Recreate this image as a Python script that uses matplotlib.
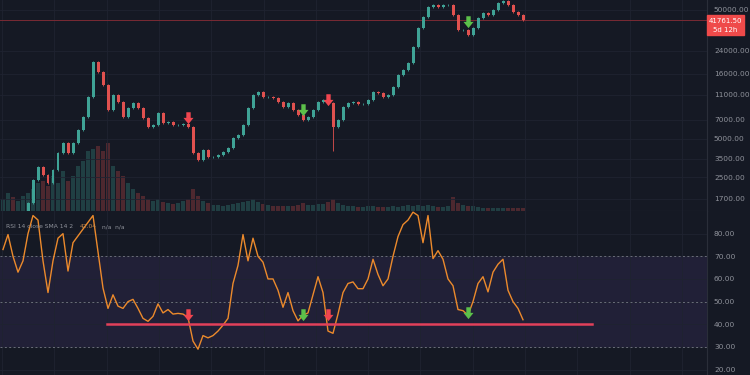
import numpy as np
import matplotlib
matplotlib.use('Agg')
import matplotlib.pyplot as plt
from matplotlib.path import Path
from matplotlib.patches import Rectangle
from matplotlib.ticker import NullLocator

# weekly closes (first five sit below the visible range)
closes = [1050, 1150, 1000, 1200, 1350,
          1578, 2383, 3006, 2606, 2259, 2851, 3864, 4624, 3864, 4624,
          5834, 7362, 10520, 19720, 16480, 13060, 8340, 10910, 9630, 7362,
          8650, 9460, 8650, 7230, 6150, 6380, 7910, 6610, 6730, 6380,
          6380, 6500, 6150, 3864, 3410, 4074, 3597, 3597, 3724, 3936,
          4227, 5058, 5333, 6380, 8650, 10910, 11510, 10520, 10520, 10350,
          9630, 8810, 9460, 8340, 7640, 6980, 7362, 8340, 9630, 9980,
          9460, 6150, 6980, 8810, 9460, 9630, 9290, 9290, 9980, 11510,
          11320, 10520, 10910, 12590, 15630, 17070, 19360, 25760, 36220, 44150,
          52720, 54700, 52720, 54700, 54700, 45710, 34910, 34910, 31990, 36220,
          43350, 47420, 45710, 50000, 56620, 58750, 54700, 48190, 45710, 41761.5]

volumes = [12, 18, 14, 10, 15, 18, 22, 28, 30, 25, 35, 28, 40, 30, 35,
           45, 50, 60, 62, 65, 60, 68, 45, 40, 35, 28, 22, 18, 15, 12,
           10, 12, 9, 8, 7, 8, 10, 12, 22, 15, 10, 8, 6, 6, 5,
           6, 7, 8, 9, 10, 12, 9, 7, 6, 5, 5, 5, 5, 5, 6,
           8, 6, 6, 7, 7, 9, 12, 8, 6, 5, 5, 4, 4, 5, 5,
           4, 4, 4, 5, 4, 5, 6, 5, 6, 5, 6, 5, 4, 4, 5,
           14, 8, 6, 5, 5, 4, 3, 3, 3, 3, 3, 3, 3, 3, 3]

rsi = [73, 79.6, 70, 63, 68, 80, 88, 86, 68, 54, 68, 78, 80, 63.5, 76,
       79, 82, 85, 88, 72, 56, 47, 53, 48, 47, 50, 51, 47, 42.6, 41.3,
       43.5, 49, 45, 46.5, 44.5, 44.8, 44.5, 43, 32.6, 29, 35, 34, 35, 37, 39.6,
       42.6, 58, 66, 79.6, 68, 78, 70, 67.4, 60, 60, 55, 47.5, 54, 46, 41.5,
       44, 45, 53, 61, 54, 37, 36, 44.5, 54, 58, 58.7, 55.7, 55.7, 60, 68.7,
       62, 57, 60, 70, 78.7, 84, 86, 89.5, 88, 76, 88, 69, 72.5, 68.7, 60,
       57, 46.5, 46, 44, 50, 58, 61, 54.3, 63, 66.5, 68.7, 55, 50, 47, 42]

assert len(closes) == len(volumes) == len(rsi)

price_ticks = [1700, 2500, 3500, 5000, 7000, 11000, 16000, 24000, 50000]
rsi_ticks = [20, 30, 40, 50, 60, 70, 80]

signal_idx = [37, 60, 65, 93]
signal_buy = [False, True, False, True]
signal_price = [7230, 8340, 9980, 40330]
signal_rsi = [44, 44, 44, 45]

wick_idx = [66]
wick_low = [4000]

last_price = 41761.50
countdown = '5d 12h'
rsi_value = '42.04'
support_rsi = 40
support_from, support_to = 20.8, 117.8

BG = '#151924'
GRID = '#1f2331'
TXT = '#8f929b'
UP, DOWN = '#3fa396', '#e0514f'
BUY, SELL = '#5cc04a', '#f0454f'

arrow = Path([(-0.35, 1), (0.35, 1), (0.35, 0.1), (0.8, 0.1), (0, -0.9),
              (-0.8, 0.1), (-0.35, 0.1), (-0.35, 1)],
             [Path.MOVETO] + [Path.LINETO] * 6 + [Path.CLOSEPOLY])

fig = plt.figure(figsize=(7.5, 3.75), dpi=100, facecolor=BG)
right = 707 / 750
top_rect = [0, 164 / 375, right, 211 / 375]
rsi_rect = [0, 0, right, 164 / 375]

idx = np.arange(len(closes))
c = np.array(closes, dtype=float)
o = np.concatenate([[c[0]], c[:-1]])
up = c >= o
cols = np.where(up, UP, DOWN)
xlim = (-0.6, 140.8)
xgrid = np.arange(-0.2, 141, 10.46)

# volume underneath
ax_vol = fig.add_axes(top_rect)
ax_vol.bar(idx, volumes, width=0.75, color=cols, alpha=0.28, linewidth=0)
ax_vol.set_xlim(*xlim)
ax_vol.set_ylim(0, max(volumes) * 3.1)
ax_vol.axis('off')

# price candles
ax = fig.add_axes(top_rect, sharex=ax_vol)
ax.patch.set_alpha(0)
ax.set_yscale('log')
ax.set_ylim(1368, 59800)
ax.set_xlim(*xlim)
lo = np.minimum(o, c)
hi = np.maximum(o, c)
ax.vlines(idx, lo * 0.98, hi * 1.02, color=cols, lw=0.6, zorder=3)
ax.bar(idx, hi - lo, bottom=lo, width=0.6, color=cols, linewidth=0, zorder=3)
for i, lw_ in zip(wick_idx, wick_low):
    ax.vlines(i, lw_, lo[i], color=cols[i], lw=0.6, zorder=3)
ax.axhline(last_price, color='#7a2a34', lw=0.7, zorder=2)
for i, b, p in zip(signal_idx, signal_buy, signal_price):
    ax.plot(i, p, marker=arrow, ms=9, color=BUY if b else SELL, mec='none', zorder=5)

ax.set_yticks(price_ticks)
ax.set_yticklabels(['%.2f' % v for v in price_ticks])
ax.yaxis.set_minor_locator(NullLocator())
ax.set_xticks(xgrid)
ax.set_xticklabels([])
ax.grid(True, color=GRID, lw=0.6)
ax.yaxis.tick_right()
ax.tick_params(axis='y', length=0, pad=5, labelsize=5.3, labelcolor=TXT)
ax.tick_params(axis='x', length=0)
for s in ['top', 'left']:
    ax.spines[s].set_visible(False)
ax.spines['right'].set_color('#2a2e39')
ax.spines['bottom'].set_color('#2a2e39')

# RSI panel
ax2 = fig.add_axes(rsi_rect, sharex=ax_vol)
ax2.set_facecolor(BG)
ax2.set_ylim(17.6, 90)
ax2.set_xlim(*xlim)
ax2.axhspan(30, 70, color='#7e57c2', alpha=0.12, lw=0)
for lvl in (70, 50, 30):
    ax2.axhline(lvl, color='#6b6e7a', lw=0.7, ls=(0, (2, 2.5)))
ax2.plot(idx, rsi, color='#ec8a2c', lw=1.0, zorder=3)
ax2.plot([support_from, support_to], [support_rsi, support_rsi],
         color='#e2405a', lw=1.8, zorder=4)
for i, b, r in zip(signal_idx, signal_buy, signal_rsi):
    ax2.plot(i, r, marker=arrow, ms=9, color=BUY if b else SELL, mec='none', zorder=5)

ax2.set_yticks(rsi_ticks)
ax2.set_yticklabels(['%.2f' % v for v in rsi_ticks])
ax2.set_xticks(xgrid)
ax2.set_xticklabels([])
ax2.grid(True, color=GRID, lw=0.6)
ax2.yaxis.tick_right()
ax2.tick_params(axis='y', length=0, pad=5, labelsize=5.3, labelcolor=TXT)
ax2.tick_params(axis='x', length=0)
for s in ['top', 'left', 'bottom']:
    ax2.spines[s].set_visible(False)
ax2.spines['right'].set_color('#2a2e39')

# legend line of the RSI study
ly = (375 - 227) / 375
fig.text(6 / 750, ly, 'RSI 14 close SMA 14 2', color=TXT, fontsize=4.3, va='center')
fig.text(80 / 750, ly, rsi_value, color='#c98a4a', fontsize=4.3, va='center')
fig.text(102 / 750, ly, 'n/a  n/a', color=TXT, fontsize=4.3, va='center')

# last price tag
fig.patches.append(Rectangle((707 / 750, 340 / 375), 37 / 750, 20 / 375,
                             transform=fig.transFigure, color='#ef4a4a', zorder=5))
fig.text(725 / 750, (375 - 21) / 375, '%.2f' % last_price, color='white',
         fontsize=5, ha='center', va='center', zorder=6)
fig.text(725 / 750, (375 - 30) / 375, countdown, color='white',
         fontsize=5, ha='center', va='center', zorder=6)

fig.savefig('out.png', dpi=100, facecolor=BG)
